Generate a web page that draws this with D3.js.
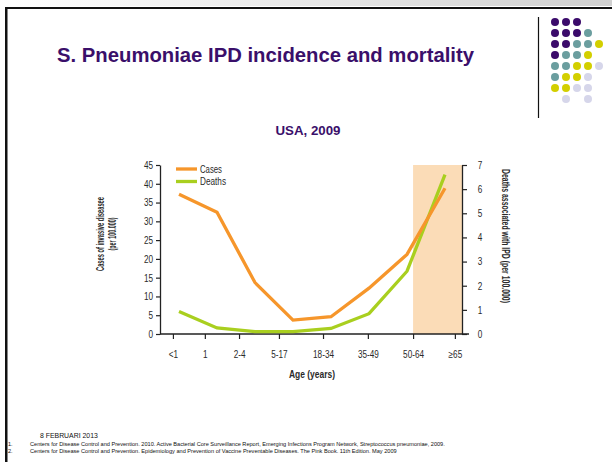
<!DOCTYPE html>
<html><head><meta charset="utf-8">
<script src="https://cdn.jsdelivr.net/npm/d3@7"></script>
<style>
html,body{margin:0;padding:0;background:#fff;}
svg{display:block;}
</style></head>
<body>
<svg id="c" width="612" height="462"></svg>
<script>
// ---- data ----
const ageGroups = ["<1","1","2-4","5-17","18-34","35-49","50-64","\u226565"];
const cases  = [37.2, 32.4, 13.7, 3.7, 4.6, 12.2, 21.2, 38.8];   // per 100,000 (left axis)
const deaths = [0.93, 0.25, 0.1, 0.1, 0.23, 0.84, 2.6, 6.6];     // per 100,000 (right axis)
const ageTickPos = [-0.16, 0.68, 1.58, 2.63, 3.79, 4.97, 6.16, 7.26]; // where the age labels sit (point-index units)
const casesTicks = [0,5,10,15,20,25,30,35,40,45];
const deathsTicks = [0,1,2,3,4,5,6,7];
const highlightFrom = 6.16, highlightTo = 7.45; // shaded 65+ region (index units)
const dotRows = [
  ["P","P","P"],
  ["P","P","P","T"],
  ["P","P","T","T","Y"],
  ["P","T","T","Y"],
  ["T","T","Y","Y","L"],
  ["T","Y","Y","L"],
  ["Y","Y","L","L"],
  ["", "L", "", "L"]
];
const refs = [
  "Centers for Disease Control and Prevention. 2010. Active Bacterial Core Surveillance Report, Emerging Infections Program Network, Streptococcus pneumoniae, 2009.",
  "Centers for Disease Control and Prevention. Epidemiology and Prevention of Vaccine Preventable Diseases. The Pink Book. 11th Edition. May 2009"
];

const svg = d3.select("#c");
const purple = "#3a0f6a";
const sans = "'Liberation Sans',Arial,sans-serif";
const ink = "#2a2a2a";
const SX = 0.78; // horizontal condense for tick labels

// slide frame
const g0 = svg.append("defs").append("linearGradient").attr("id","tg").attr("x1","0").attr("x2","1");
g0.append("stop").attr("offset","0").attr("stop-color","#fff");
g0.append("stop").attr("offset","1").attr("stop-color","#d0d0d0");
svg.append("rect").attr("x",0).attr("y",0).attr("width",612).attr("height",6).attr("fill","url(#tg)");
svg.append("rect").attr("x",5).attr("y",7).attr("width",607).attr("height",2).attr("fill","#111");
svg.append("rect").attr("x",5).attr("y",7).attr("width",2.5).attr("height",455).attr("fill","#111");
svg.append("line").attr("x1",538.5).attr("x2",538.5).attr("y1",17).attr("y2",118).attr("stroke","#111").attr("stroke-width",1.2);

// dots decoration
const dotColor = {P:"#3b0b6b",T:"#6b9e9f",Y:"#d3cf00",L:"#d6d6ea"};
dotRows.forEach((row,ri)=>{
  row.forEach((c,ci)=>{
    if(!c) return;
    svg.append("circle").attr("cx",555+ci*11).attr("cy",22+ri*11).attr("r",4).attr("fill",dotColor[c]);
  });
});

// title
svg.append("text").attr("x",57).attr("y",62).attr("font-family",sans)
  .attr("font-weight","bold").attr("font-size",20.3).attr("fill",purple)
  .text("S. Pneumoniae IPD incidence and mortality");
svg.append("text").attr("x",308).attr("y",135).attr("text-anchor","middle")
  .attr("font-family",sans).attr("font-weight","bold").attr("font-size",13.3).attr("fill",purple)
  .text("USA, 2009");

// scales
const x = d3.scaleLinear().domain([0,7]).range([179,445]);
const yL = d3.scaleLinear().domain([0,45]).range([334,165]);
const yR = d3.scaleLinear().domain([0,7]).range([334,165]);

// highlight
svg.append("rect").attr("x",x(highlightFrom)).attr("y",yL(45))
  .attr("width",x(highlightTo)-x(highlightFrom)).attr("height",yL(0)-yL(45)).attr("fill","#fbdcb7");

// axes
function styleAxis(g){
  g.selectAll("path.domain").attr("stroke","#222").attr("stroke-width",1.3);
  g.selectAll(".tick line").attr("stroke","#222").attr("stroke-width",1.2);
  g.selectAll(".tick text").attr("font-family",sans).attr("font-size",10.5).attr("fill",ink)
    .attr("transform",`scale(${SX},1)`);
}
const gl = svg.append("g").attr("transform","translate(160,0)")
  .call(d3.axisLeft(yL).tickValues(casesTicks).tickSize(4).tickSizeOuter(0));
styleAxis(gl);
gl.selectAll(".tick text").attr("x",-7/SX);
const gr = svg.append("g").attr("transform","translate(462,0)")
  .call(d3.axisRight(yR).tickValues(deathsTicks).tickFormat(d3.format("d")).tickSize(5).tickSizeOuter(0));
styleAxis(gr);
gr.selectAll(".tick text").attr("x",18/SX).attr("text-anchor","middle");
const gb = svg.append("g").attr("transform","translate(0,334)")
  .call(d3.axisBottom(x).tickValues(ageTickPos).tickFormat((d,i)=>ageGroups[i]).tickSize(5).tickSizeOuter(0).tickPadding(12));
gb.select("path.domain").attr("d","M160,0H469");
styleAxis(gb);

// axis titles
function condensed(sel, len){ return sel.attr("textLength",len).attr("lengthAdjust","spacingAndGlyphs"); }
const lt = svg.append("text").attr("transform","translate(104,234) rotate(-90)").attr("text-anchor","middle")
  .attr("font-family",sans).attr("font-weight","bold").attr("font-size",10.5).attr("fill",ink);
condensed(lt.append("tspan").attr("x",0).attr("y",0).text("Cases of invasive diseasee"),74);
condensed(lt.append("tspan").attr("x",0).attr("y",11.5).text("(per 100.000)"),33);
condensed(svg.append("text").attr("transform","translate(502,236) rotate(90)").attr("text-anchor","middle")
  .attr("font-family",sans).attr("font-weight","bold").attr("font-size",10.5).attr("fill",ink)
  .text("Deaths associated with IPD (per 100.000)"),134);
condensed(svg.append("text").attr("x",312).attr("y",378).attr("text-anchor","middle")
  .attr("font-family",sans).attr("font-weight","bold").attr("font-size",11).attr("fill",ink)
  .text("Age (years)"),46);

// lines
const lineCases = d3.line().x((d,i)=>x(i)).y(d=>yL(d));
const lineDeaths = d3.line().x((d,i)=>x(i)).y(d=>yR(d));
svg.append("path").attr("d",lineDeaths(deaths)).attr("fill","none").attr("stroke","#a9cf1f").attr("stroke-width",3.3);
svg.append("path").attr("d",lineCases(cases)).attr("fill","none").attr("stroke","#f6962b").attr("stroke-width",3.3);

// legend
const legend = [{name:"Cases",color:"#f6962b",len:22},{name:"Deaths",color:"#a9cf1f",len:26}];
legend.forEach((l,i)=>{
  const yy = 169 + i*12.5;
  svg.append("line").attr("x1",176).attr("x2",197).attr("y1",yy).attr("y2",yy).attr("stroke",l.color).attr("stroke-width",3.3);
  condensed(svg.append("text").attr("x",200).attr("y",yy+3.8).attr("font-family",sans).attr("font-size",10.5).attr("fill",ink).text(l.name),l.len);
});

// footer
svg.append("text").attr("x",40).attr("y",438).attr("font-family",sans).attr("font-size",6.9).attr("fill","#111").text("8 FEBRUARI 2013");
refs.forEach((r,i)=>{
  const yy = 445.5 + i*7;
  svg.append("text").attr("x",8).attr("y",yy).attr("font-family",sans).attr("font-size",5.6).attr("fill","#111").text((i+1)+".");
  svg.append("text").attr("x",30).attr("y",yy).attr("font-family",sans).attr("font-size",5.6).attr("fill","#111").text(r);
});
</script>
</body></html>
